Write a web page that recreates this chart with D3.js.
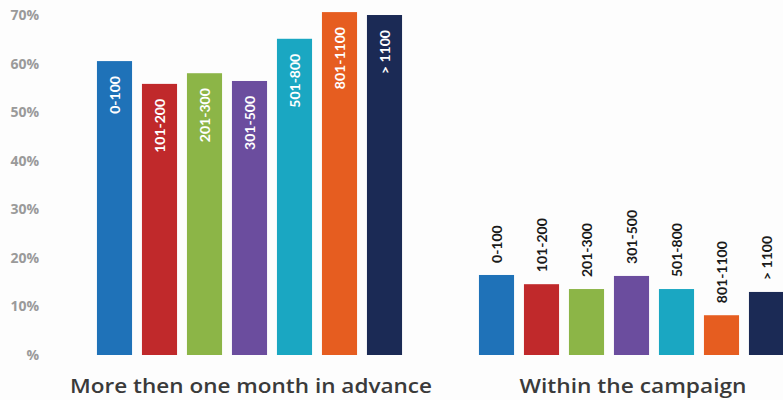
<!DOCTYPE html>
<html><head><meta charset="utf-8">
<script src="https://cdn.jsdelivr.net/npm/d3@7"></script>
<style>html,body{margin:0;padding:0;background:#fdfdfd;}svg{display:block;}</style>
</head><body>
<script>
const categories = ["0-100","101-200","201-300","301-500","501-800","801-1100","> 1100"];
const advanceValues = [60.6, 55.9, 58.1, 56.5, 65.2, 70.7, 70.1];
const campaignValues = [16.5, 14.6, 13.6, 16.3, 13.6, 8.2, 13.0];
const groupTitles = ["More then one month in advance", "Within the campaign"];
const tickValues = [0, 10, 20, 30, 40, 50, 60, 70];
const colors = ["#1f72b8","#c0292b","#8cb547","#6b4d9e","#1aa7c2","#e65d20","#1b2a55"];

const W = 783, H = 400;
const svg = d3.select("body").append("svg").attr("width", W).attr("height", H);

const y = d3.scaleLinear().domain([0, 70]).range([355, 15.5]);

// y axis labels
const yAxis = d3.axisLeft(y).tickValues(tickValues).tickSize(0).tickPadding(0)
  .tickFormat(d => d === 0 ? "%" : d + "%");
const ga = svg.append("g").attr("transform", "translate(39,0)").call(yAxis);
ga.select(".domain").remove();
ga.selectAll("text").attr("fill", "#9a9a9a").style("font-family", "'Open Sans', sans-serif")
  .style("font-size", "14px").style("font-weight", "bold");

function group(values, range, inside, title, titleX, titleLen) {
  const x = d3.scaleBand().domain(categories).range(range).paddingInner(0.22).paddingOuter(0.11);
  const g = svg.append("g");
  g.selectAll("rect").data(values).join("rect")
    .attr("x", (d, i) => x(categories[i]))
    .attr("width", x.bandwidth())
    .attr("y", d => y(d))
    .attr("height", d => y(0) - y(d))
    .attr("fill", (d, i) => colors[i]);
  g.selectAll("text.lbl").data(values).join("text").attr("class", "lbl")
    .attr("transform", (d, i) => {
      const cx = x(categories[i]) + x.bandwidth() / 2;
      const ty = inside ? y(d) + 15 : y(d) - 12;
      return `translate(${cx},${ty}) rotate(-90)`;
    })
    .attr("text-anchor", inside ? "end" : "start")
    .attr("dy", "0.36em")
    .attr("fill", inside ? "#ffffff" : "#1a1a1a")
    .style("font-family", "Lato, sans-serif").style("font-weight", "bold").style("font-size", "14px")
    .text((d, i) => categories[i]);
  svg.append("text").attr("x", titleX).attr("y", 393).attr("text-anchor", "middle")
    .attr("textLength", titleLen).attr("lengthAdjust", "spacingAndGlyphs")
    .attr("fill", "#3a3a3a").style("font-family", "'Open Sans', sans-serif").style("font-weight", "600")
    .style("font-size", "19px").text(title);
}

group(advanceValues, [92, 407], true, groupTitles[0], 251, 362);
group(campaignValues, [474, 789], false, groupTitles[1], 633, 227);
</script>
</body></html>
